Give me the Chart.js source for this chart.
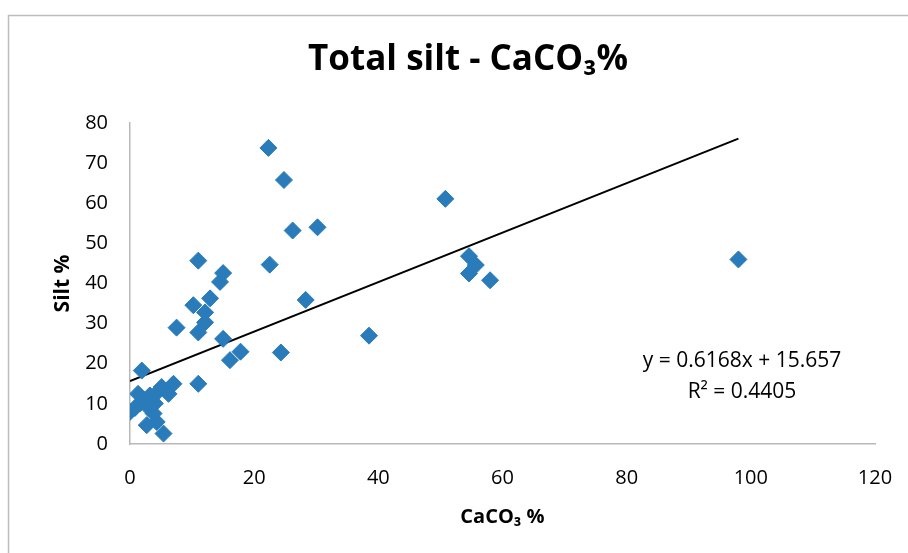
<!DOCTYPE html>
<html>
<head>
<meta charset="utf-8">
<script src="https://cdn.jsdelivr.net/npm/chart.js@4.4.1/dist/chart.umd.min.js"></script>
<style>
  html, body { margin: 0; padding: 0; background: #ffffff; }
  #wrap { position: relative; width: 908px; height: 553px; }
</style>
</head>
<body>
<div id="wrap"><canvas id="chart" width="908" height="553"></canvas></div>
<script>
var caco3 = [0, 0.8, 1.3, 1.6, 1.9, 2.2, 2.7, 2.9, 3.2, 3.8, 4.0, 4.3, 4.5, 5.1, 5.4, 6.2, 7.0, 11.0,
  7.5, 10.2, 11.0, 11.0, 12.1, 12.1, 12.9, 14.5, 15.0, 15.0, 16.1, 17.8, 22.3, 22.5, 24.3, 24.8,
  26.2, 28.3, 30.2, 38.5, 50.8, 54.6, 55.7, 54.6, 58.0, 98.0];
var silt = [8.0, 9.0, 12.5, 10.1, 18.3, 11.0, 4.7, 9.2, 12.1, 7.6, 10.1, 5.5, 13.0, 14.2, 2.6, 12.5, 15.0, 15.0,
  29.0, 34.6, 45.7, 27.8, 30.3, 32.8, 36.3, 40.4, 42.6, 26.2, 20.9, 23.0, 73.8, 44.7, 22.8, 65.8,
  53.2, 35.9, 54.0, 27.0, 61.1, 46.8, 44.6, 42.5, 40.8, 46.0];
var slope = 0.6168;
var intercept = 15.657;
var r2 = 0.4405;
var xTicks = [0, 20, 40, 60, 80, 100, 120];
var yTicks = [0, 10, 20, 30, 40, 50, 60, 70, 80];

var blue = 'rgb(41,123,186)';
var font = "'Open Sans', 'DejaVu Sans', sans-serif";

var points = caco3.map(function (x, i) { return { x: x, y: silt[i] }; });
var xMax = Math.max.apply(null, caco3);
var trend = [{ x: 0, y: intercept }, { x: xMax, y: slope * xMax + intercept }];

var frame = {
  id: 'frame',
  beforeDraw: function (c) {
    var ctx = c.ctx;
    ctx.save();
    ctx.strokeStyle = '#bdbdbd';
    ctx.lineWidth = 1.5;
    ctx.strokeRect(8.5, 15.5, 1000, 1000);
    ctx.restore();
  },
  afterDraw: function (c) {
    // trendline equation, Excel style
    var ctx = c.ctx;
    var a = c.chartArea;
    ctx.save();
    ctx.fillStyle = '#000000';
    ctx.font = '21px ' + font;
    ctx.textAlign = 'center';
    ctx.textBaseline = 'middle';
    ctx.fillText('y = ' + slope + 'x + ' + intercept, a.left + 612, a.top + 238);
    ctx.fillText('R\u00b2 = ' + r2, a.left + 612, a.top + 269);
    ctx.restore();
  }
};

var chart = new Chart(document.getElementById('chart'), {
  type: 'scatter',
  data: {
    datasets: [{
      label: 'Silt',
      data: points,
      pointStyle: 'rectRot',
      pointRadius: 8.5,
      pointHoverRadius: 8.5,
      backgroundColor: blue,
      borderColor: blue,
      borderWidth: 1
    }, {
      label: 'Linear',
      data: trend,
      showLine: true,
      pointRadius: 0,
      borderColor: '#000000',
      borderWidth: 2,
      fill: false
    }]
  },
  options: {
    responsive: false,
    animation: false,
    layout: {
      padding: { left: 28, right: 0, top: 15, bottom: 24 }
    },
    scales: {
      x: {
        type: 'linear',
        min: 0,
        max: 120,
        afterBuildTicks: function (s) { s.ticks = xTicks.map(function (v) { return { value: v }; }); },
        afterFit: function (s) { s.height = 85; s.paddingRight = 33; },
        grid: { display: false, drawTicks: false },
        border: { display: true, color: '#b8b8b8', width: 1.5 },
        ticks: { color: '#000000', padding: 22, maxRotation: 0, font: { family: font, size: 20 } },
        title: {
          display: true,
          text: 'CaCO\u2083 %',
          color: '#000000',
          padding: { top: 8, bottom: 0 },
          font: { family: font, size: 20, weight: 'bold' }
        }
      },
      y: {
        type: 'linear',
        min: 0,
        max: 80,
        afterBuildTicks: function (s) { s.ticks = yTicks.map(function (v) { return { value: v }; }); },
        afterFit: function (s) { s.width = 102; },
        grid: { display: false, drawTicks: false },
        border: { display: true, color: '#b8b8b8', width: 1.5 },
        ticks: { color: '#000000', padding: 22, font: { family: font, size: 20 } },
        title: {
          display: true,
          text: 'Silt %',
          color: '#000000',
          padding: { top: 22, bottom: 0 },
          font: { family: font, size: 21, weight: 'bold' }
        }
      }
    },
    plugins: {
      legend: { display: false },
      tooltip: { enabled: false },
      title: {
        display: true,
        text: 'Total silt - CaCO\u2083%',
        color: '#000000',
        padding: { top: 24, bottom: 42 },
        font: { family: font, size: 35, weight: 'bold' }
      }
    }
  },
  plugins: [frame]
});
</script>
</body>
</html>
